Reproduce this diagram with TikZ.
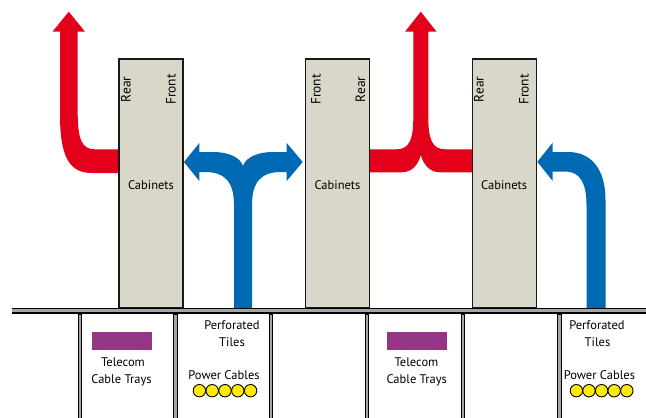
\documentclass[tikz,border=0pt]{standalone}
\usepackage{fontspec}
\setmainfont{PT Sans}
\definecolor{arred}{HTML}{E2001A}
\definecolor{arblue}{HTML}{0069B4}
\definecolor{trayc}{HTML}{933686}
\definecolor{cabfill}{HTML}{D8D7C9}
\definecolor{floorg}{HTML}{A6A6A6}
\definecolor{cabyel}{HTML}{FFEB00}
\begin{document}
\begin{tikzpicture}[x=1pt,y=-1pt,
  cabinet/.style={draw=black!90, line width=1.3pt, fill=cabfill, minimum width=64pt, minimum height=249pt, inner sep=0pt},
  lbl/.style={font=\fontsize{12.5}{14}\selectfont, inner sep=0pt, anchor=base},
  side/.style={font=\fontsize{13.5}{15}\selectfont, inner sep=0pt, rotate=90, anchor=east},
  redflow/.style={fill=arred, draw=none},
  blueflow/.style={fill=arblue, draw=none},
  tray/.style={fill=trayc, draw=none},
  cable/.style={fill=cabyel, draw=black, line width=0.9pt},
  post/.style={fill=floorg, draw=black, line width=0.9pt}]
\useasboundingbox (0,0) rectangle (646,418);

% red flow 1
\path[redflow] (118,149.3) -- (95,149.3) .. controls (82,149.3) and (77.7,140) .. (77.7,112)
  -- (77.7,31.7) -- (85,31.7) -- (68.8,11.7) -- (52.5,31.7) -- (60,31.7) -- (60,115)
  .. controls (60,158) and (70,173) .. (92,173) -- (119,173) -- cycle;
% red flow 2
\path[redflow] (369,149.3) -- (396.7,149.3) .. controls (410,149.3) and (413.3,138) .. (413.3,117)
  -- (413.3,31.7) -- (405,31.7) -- (420.8,11.7) -- (436.5,31.7) -- (428.3,31.7) -- (428.3,117)
  .. controls (428.3,138) and (431.6,149.3) .. (445,149.3) -- (472,149.3) -- (472,172.3)
  -- (440,172.3) .. controls (430,172.3) and (423.6,165) .. (420.8,155)
  .. controls (418,165) and (412,172.3) .. (401.7,172.3) -- (369,172.3) -- cycle;
% blue flow 1
\path[blueflow] (234,308) -- (234,205) .. controls (234,182) and (225,172) .. (205,172)
  -- (199.3,172) -- (199.3,181) -- (184,162) -- (199.3,143) -- (199.3,152) -- (213,152)
  .. controls (228,152) and (240,157) .. (243,166) .. controls (246,157) and (258,152) .. (273,152)
  -- (286.7,152) -- (286.7,143) -- (302.7,162) -- (286.7,181) -- (286.7,172) -- (281,172)
  .. controls (261,172) and (252,182) .. (252,205) -- (252,308) -- cycle;
% blue flow 2
\path[blueflow] (586.5,308) -- (586.5,205) .. controls (586.5,183) and (580,171.5) .. (565,171.5)
  -- (552.7,171.5) -- (552.7,181) -- (537.3,161.8) -- (552.7,142.7) -- (552.7,152) -- (568,152)
  .. controls (592,152) and (605.5,170) .. (605.5,200) -- (605.5,308) -- cycle;

% cabinets
\node[cabinet] (cab1) at (151,183.5) {};
\node[cabinet] (cab2) at (337.5,183.5) {};
\node[cabinet] (cab3) at (504.2,183.5) {};
\node[lbl] (c1t) at (151,189.3) {Cabinets};
\node[lbl] (c2t) at (337.5,189.3) {Cabinets};
\node[lbl] (c3t) at (504.2,189.3) {Cabinets};
\node[side] (r1) at (126,76.5) {Rear};
\node[side] (f1) at (171,74) {Front};
\node[side] (f2) at (316,74) {Front};
\node[side] (r2) at (360.5,76.5) {Rear};
\node[side] (r3) at (479,76.5) {Rear};
\node[side] (f3) at (524,74) {Front};

% floor
\fill[floorg] (12,308) rectangle (646,313);
\draw[black, line width=0.7pt] (12,308) -- (646,308);
\draw[black, line width=1.8pt] (12,313.3) -- (646,313.3);
\foreach \px in {80,175.5,271,367.2,463.2,559.4} {
  \draw[post] (\px-1.7,314.2) rectangle (\px+1.7,419);
}

% under-floor contents
\path[tray] (92,332) rectangle (152,350);
\path[tray] (386.7,332) rectangle (447,350);
\node[lbl] (t1a) at (123,366) {Telecom};
\node[lbl] (t1b) at (121.5,383.3) {Cable Trays};
\node[lbl] (t2a) at (416.5,366) {Telecom};
\node[lbl] (t2b) at (416.7,383.3) {Cable Trays};
\node[lbl] (p1a) at (232,329.3) {Perforated};
\node[lbl] (p1b) at (232,346.7) {Tiles};
\node[lbl] (p2a) at (597,329.3) {Perforated};
\node[lbl] (p2b) at (597.5,346.7) {Tiles};
\node[lbl] (w1) at (224,379) {Power Cables};
\node[lbl] (w2) at (599.4,379) {Power Cables};
\foreach \k in {0,...,4} {
  \draw[cable] (199.4+12.8*\k,390.7) circle (6.2);
  \draw[cable] (576.4+12.6*\k,390.7) circle (6.2);
}
\end{tikzpicture}
\end{document}
